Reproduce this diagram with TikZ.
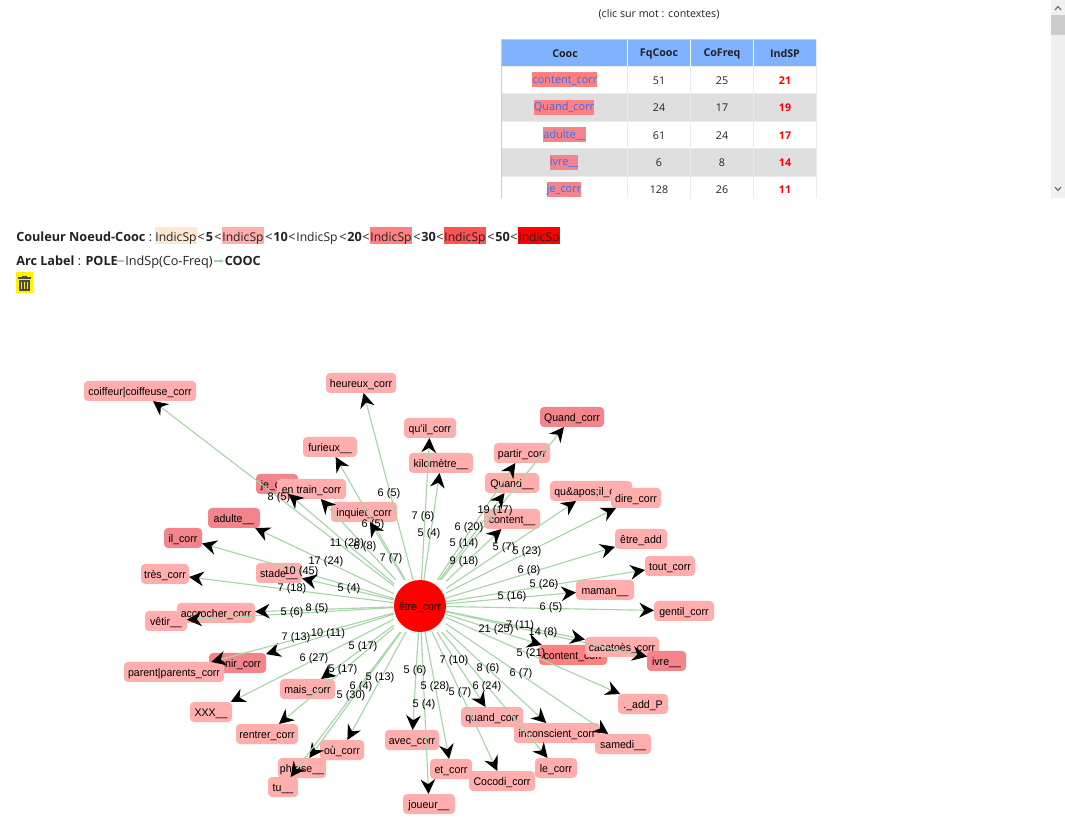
\documentclass[tikz,border=0pt]{standalone}
\usepackage{fontspec}
\setmainfont{Open Sans}
\newfontfamily\arialf{Liberation Sans}
\newfontfamily\arialn[FakeStretch=0.96]{Liberation Sans}
\usetikzlibrary{arrows.meta}
\definecolor{boxa}{HTML}{FFADAD}
\definecolor{boxb}{HTML}{F4848C}
\definecolor{boxc}{HTML}{FF8080}
\definecolor{edgec}{HTML}{A8D5A8}
\definecolor{hdr}{HTML}{7FB3FF}
\definecolor{alt}{HTML}{DFDFDF}
\definecolor{linkb}{HTML}{2A6EFF}
\definecolor{ink}{HTML}{222222}
\definecolor{sb}{HTML}{F0F0F0}
\tikzset{
 x=0.75pt,y=-0.75pt,
 cooc/.style={fill=boxa,rounded corners=3pt,inner sep=0pt,outer sep=0pt,font=\arialn\fontsize{8.25}{10}\selectfont,text=black,text height=6.6pt,text depth=0pt},
 coocb/.style={cooc,fill=boxb},
 coocc/.style={cooc,fill=boxc},
 lnk/.style={draw=edgec,line width=0.85pt,-{Stealth[length=11pt,width=11pt,inset=3.6pt,black]}},
 lab/.style={font=\arialf\fontsize{8.25}{10}\selectfont,text=black,inner sep=0pt},
 txt/.style={font=\fontsize{9.5}{11}\selectfont,text=ink,inner sep=0pt},
 hltxt/.style={font=\fontsize{9.1}{11}\selectfont,text=ink,inner sep=0pt},
 tcell/.style={font=\fontsize{8}{10}\selectfont,text=ink,inner sep=0pt},
 thead/.style={font=\fontsize{8}{10}\selectfont\bfseries,text=ink,inner sep=0pt},
 tlink/.style={font=\fontsize{8.2}{10}\selectfont,text=linkb,inner sep=0pt},
 tred/.style={font=\fontsize{8}{10}\selectfont\bfseries,text=red,inner sep=0pt},
}
% box: name, left, top, right, bottom, style, text
\newcommand{\cbox}[7]{\path[#6] ({(#2+#4)/2},{(#3+#5)/2}) node[#6,minimum width={(#4-#2)*0.75pt},minimum height={(#5-#3)*0.75pt}] (#1) {#7};}
\newcommand{\lbl}[3]{\node[lab] at (#1,#2+1.5) {#3};}
\newcommand{\hlbox}[3]{\fill[#3] (#1,227) rectangle (#2,244); \node[hltxt,anchor=base] at ({(#1+#2)/2},242) {IndicSp};}
\begin{document}
\begin{tikzpicture}
\useasboundingbox (0,0) rectangle (1065,823);
\fill[white] (0,0) rectangle (1065,823);
% scrollbar
\fill[sb] (1051,0) rectangle (1065,198);
\fill[black!20] (1051,15) rectangle (1065,35);
\draw[black!60,line width=0.8pt] (1055,10) -- (1058,6.5) -- (1061,10);
\draw[black!60,line width=0.8pt] (1055,187) -- (1058,190.5) -- (1061,187);
\node[tcell] (clic) at (659,14) {(clic sur mot : contextes)};
% table
\fill[hdr] (501,39) rectangle (816,66);
\fill[alt] (501,94) rectangle (816,121);
\fill[alt] (501,149) rectangle (816,176);
\foreach \yy in {66.5,93.5,121,148.5,176}{\draw[black!8,line width=0.7pt] (501,\yy) -- (816,\yy);}
\foreach \xx in {627.5,690.5,753}{\draw[white,line width=0.7pt] (\xx,39) -- (\xx,66);\draw[black!8,line width=0.7pt] (\xx,66) -- (\xx,198);}
\draw[black!20,line width=0.7pt] (501,39) -- (501,198);
\draw[black!8,line width=0.7pt] (816,39) -- (816,198);
\draw[black!20,line width=0.7pt] (501,39) -- (816,39);
\node[thead] (h1) at (565,54) {Cooc};
\node[thead] (h2) at (659,54) {FqCooc};
\node[thead] (h3) at (722,54) {CoFreq};
\node[thead] (h4) at (785,54) {IndSP};
\fill[boxc] (532,72) rectangle (597,87);
\fill[boxc] (534,100) rectangle (594,115);
\fill[boxb] (543,127) rectangle (586,142);
\fill[boxb] (550,155) rectangle (578,170);
\fill[boxb] (547,182) rectangle (581,197);
\node[tlink] at (565,80.5) {content\_corr};
\node[tlink] at (564,107.5) {Quand\_corr};
\node[tlink] at (564.5,135.5) {adulte\_\_};
\node[tlink] at (564,162.5) {ivre\_\_};
\node[tlink] at (564,189.5) {je\_corr};
\foreach \yy/\a/\b/\c in {80/51/25/21,107/24/17/19,135/61/24/17,162/6/8/14,189/128/26/11}{
 \node[tcell] at (659,\yy+1) {\a};
 \node[tcell] at (722,\yy+1) {\b};
 \node[tred] at (785,\yy+1) {\c};
}
% legend
\node[txt,anchor=base west] (leg) at (16,242) {\textbf{Couleur Noeud-Cooc} :};
\hlbox{155}{197}{boxa!0!orange!18}
\hlbox{222}{264}{boxa}
\hlbox{370}{412}{boxc}
\hlbox{444}{486}{red!68}
\hlbox{518}{560}{red}
\node[hltxt,anchor=base] at (296+21,242) {IndicSp};
\foreach \xx/\t in {201/<,209.5/\textbf{5},218/<,269/<,280.5/\textbf{10},292/<,343/<,354.5/\textbf{20},366/<,417/<,428.5/\textbf{30},440/<,491/<,502.5/\textbf{50},514/<}{\node[txt,anchor=base] at (\xx,242) {\t};}
\node[txt,anchor=base west] (arc) at (16,266) {\textbf{Arc Label} : \textbf{POLE}};
\draw[edgec,line width=0.8pt] (116.5,261) -- (124,261);
\node[txt,anchor=base west] at (125,266) {IndSp(Co-Freq)};
\draw[edgec,line width=0.8pt,-{Stealth[length=3pt,width=3pt]}] (214,261) -- (224,261);
\node[txt,anchor=base west] at (224.5,266) {\textbf{COOC}};
% trash
\fill[yellow] (16,272) rectangle (32.5,293);
\fill[black!80!yellow] (18,277.5) rectangle (31,279.5);
\fill[black!80!yellow] (22,276) rectangle (27,278);
\fill[black!80!yellow] (19,280.5) rectangle (30,291);
\foreach \xx in {21.5,24.5,27.5}{\fill[yellow] (\xx-0.7,282) rectangle (\xx+0.7,289.5);}
% nodes
\cbox{coif}{84}{381}{196}{401}{cooc}{coiffeur|coiffeuse\_corr}
\cbox{heur}{326}{373}{396}{393}{cooc}{heureux\_corr}
\cbox{furi}{303}{437}{357}{457}{cooc}{furieux\_\_}
\cbox{je}{256}{474}{298}{494}{coocb}{je\_corr}
\cbox{entr}{277}{479}{346}{499}{cooc}{en train\_corr}
\cbox{inqu}{331}{502}{397}{522}{cooc}{inquiet\_corr}
\cbox{adul}{208}{508}{260}{528}{coocb}{adulte\_\_}
\cbox{il}{164}{528}{202}{548}{coocb}{il\_corr}
\cbox{tres}{141}{564}{189}{584}{cooc}{très\_corr}
\cbox{stad}{256}{563}{302}{583}{cooc}{stade\_\_}
\cbox{veti}{145}{611}{187}{631}{cooc}{vêtir\_\_}
\cbox{accr}{177}{603}{255}{623}{cooc}{accrocher\_corr}
\cbox{veni}{209}{653}{266}{673}{coocb}{venir\_corr}
\cbox{pare}{124}{662}{224}{682}{cooc}{parent|parents\_corr}
\cbox{xxx}{190}{702}{232}{722}{cooc}{XXX\_\_}
\cbox{mais}{280}{679}{335}{699}{cooc}{mais\_corr}
\cbox{rent}{236}{724}{298}{744}{cooc}{rentrer\_corr}
\cbox{ou}{320}{740}{364}{760}{cooc}{où\_corr}
\cbox{phra}{278}{758}{326}{778}{cooc}{phrase\_\_}
\cbox{tu}{268}{777}{298}{797}{cooc}{tu\_\_}
\cbox{avec}{385}{730}{439}{750}{cooc}{avec\_corr}
\cbox{joue}{403}{794}{455}{814}{cooc}{joueur\_\_}
\cbox{et}{430}{759}{472}{779}{cooc}{et\_corr}
\cbox{coco}{469}{771}{535}{791}{cooc}{Cocodi\_corr}
\cbox{le}{535}{758}{577}{778}{cooc}{le\_corr}
\cbox{quan}{461}{707}{523}{727}{cooc}{quand\_corr}
\cbox{inco}{514}{723}{600}{743}{cooc}{inconscient\_corr}
\cbox{same}{595}{734}{651}{754}{cooc}{samedi\_\_}
\cbox{addp}{618}{694}{668}{714}{cooc}{.\_add\_P}
\cbox{cont}{539}{645}{607}{665}{coocc}{content\_corr}
\cbox{caca}{585}{637}{659}{657}{cooc}{cacatoès\_corr}
\cbox{ivre}{647}{651}{686}{671}{coocb}{ivre\_\_}
\cbox{gent}{654}{601}{714}{621}{cooc}{gentil\_corr}
\cbox{quil}{404}{418}{456}{438}{cooc}{qu'il\_corr}
\cbox{kilo}{409}{453}{473}{473}{cooc}{kilomètre\_\_}
\cbox{Qcor}{540}{407}{604}{427}{coocb}{Quand\_corr}
\cbox{part}{494}{443}{550}{463}{cooc}{partir\_corr}
\cbox{Qund}{485}{473}{539}{493}{cooc}{Quand\_\_}
\cbox{ctnt}{484}{509}{540}{529}{cooc}{content\_\_}
\cbox{qapo}{550}{481}{632}{501}{cooc}{qu\&apos;il\_corr}
\cbox{dire}{611}{488}{661}{508}{cooc}{dire\_corr}
\cbox{etad}{615}{529}{667}{549}{cooc}{être\_add}
\cbox{tout}{645}{556}{695}{576}{cooc}{tout\_corr}
\cbox{mama}{576}{580}{634}{600}{cooc}{maman\_\_}
% centre
\node[cooc,fill=red,rounded corners=19.4pt,minimum size=39pt] (pole) at (420,606) {être\_corr};
% connectors
\foreach \t in {coif,heur,furi,je,entr,inqu,adul,il,tres,stad,veti,accr,veni,pare,xxx,mais,rent,ou,phra,tu,avec,joue,et,coco,le,quan,inco,same,addp,cont,ivre,caca,gent,quil,kilo,Qcor,part,Qund,ctnt,qapo,dire,etad,tout,mama}{\draw[lnk] (pole) -- (\t);}
% labels
\lbl{389}{492}{6 (5)}\lbl{279}{496}{8 (5)}\lbl{373}{523}{6 (5)}\lbl{347}{542}{11 (28)}\lbl{365}{545}{6 (8)}
\lbl{391}{557}{7 (7)}\lbl{326}{560}{17 (24)}\lbl{301}{570}{10 (45)}\lbl{349}{587}{5 (4)}\lbl{292}{587}{7 (18)}
\lbl{292}{611}{5 (6)}\lbl{317}{607}{8 (5)}\lbl{296}{636}{7 (13)}\lbl{328}{632}{10 (11)}\lbl{363}{645}{5 (17)}
\lbl{314}{657}{6 (27)}\lbl{343}{668}{5 (17)}\lbl{380}{676}{5 (13)}\lbl{361}{685}{6 (4)}\lbl{351}{694}{5 (30)}
\lbl{415}{669}{5 (6)}\lbl{435}{685}{5 (28)}\lbl{424}{703}{5 (4)}\lbl{460}{691}{5 (7)}\lbl{454}{659}{7 (10)}
\lbl{488}{667}{8 (6)}\lbl{487}{685}{6 (24)}\lbl{521}{672}{6 (7)}\lbl{531}{652}{5 (21)}\lbl{496}{628}{21 (25)}
\lbl{520}{624}{7 (11)}\lbl{543}{631}{14 (8)}\lbl{551}{606}{6 (5)}\lbl{423}{515}{7 (6)}\lbl{429}{532}{5 (4)}
\lbl{495}{509}{19 (17)}\lbl{469}{526}{6 (20)}\lbl{464}{542}{5 (14)}\lbl{504}{546}{5 (7)}\lbl{527}{550}{5 (23)}
\lbl{464}{560}{9 (18)}\lbl{529}{569}{6 (8)}\lbl{544}{583}{5 (26)}\lbl{512}{595}{5 (16)}
\end{tikzpicture}
\end{document}
